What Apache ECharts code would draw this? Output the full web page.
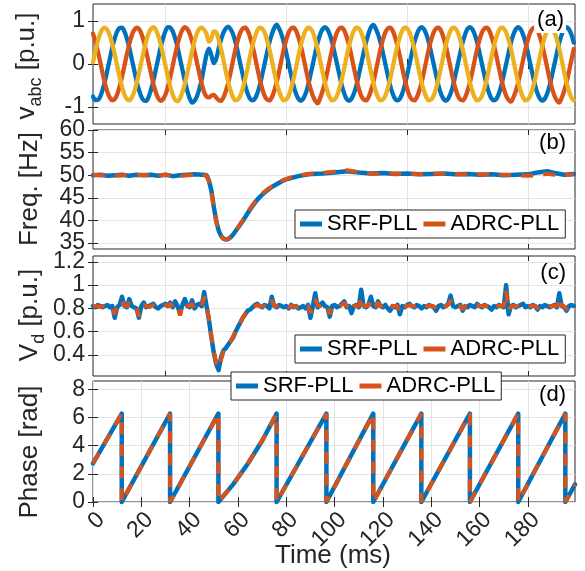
<!DOCTYPE html>
<html><head><meta charset="utf-8">
<script src="https://cdn.jsdelivr.net/npm/echarts@6/dist/echarts.min.js"></script>
<style>html,body{margin:0;padding:0;background:#fff}#c{width:585px;height:571px}</style>
</head><body><div id="c"></div><script>
// ---------- data (time axis: one sample per ms for panels a and c) ----------
const vA = [
-0.76,-0.84,-0.84,-0.76,-0.60,-0.39,-0.13,0.13,0.39,0.60,0.76,0.84,0.85,0.76,0.60,0.39,0.13,-0.13,-0.39,-0.60,
-0.76,-0.85,-0.86,-0.77,-0.60,-0.39,-0.13,0.13,0.39,0.60,0.77,0.86,0.85,0.76,0.60,0.39,0.13,-0.13,-0.39,-0.62,
-0.80,-0.90,-0.86,-0.76,-0.58,-0.36,-0.06,0.22,0.36,0.20,0.02,0.12,0.36,0.57,0.73,0.83,0.87,0.81,0.69,0.50,
0.26,0.00,-0.26,-0.50,-0.69,-0.81,-0.85,-0.81,-0.69,-0.50,-0.26,0.00,0.26,0.50,0.69,0.84,0.92,0.83,0.69,0.50,
0.26,0.00,-0.26,-0.50,-0.69,-0.81,-0.86,-0.81,-0.69,-0.50,-0.26,0.00,0.26,0.50,0.69,0.81,0.86,0.81,0.69,0.50,
0.26,0.00,-0.26,-0.50,-0.69,-0.82,-0.86,-0.81,-0.69,-0.50,-0.26,0.00,0.26,0.50,0.70,0.85,0.91,0.83,0.69,0.50,
0.26,0.00,-0.26,-0.50,-0.69,-0.81,-0.85,-0.81,-0.69,-0.50,-0.26,0.00,0.26,0.50,0.69,0.81,0.86,0.81,0.69,0.50,
0.26,0.00,-0.26,-0.50,-0.69,-0.81,-0.86,-0.81,-0.69,-0.50,-0.26,0.00,0.26,0.50,0.69,0.82,0.86,0.81,0.69,0.50,
0.26,0.00,-0.26,-0.50,-0.69,-0.81,-0.85,-0.81,-0.69,-0.50,-0.26,0.00,0.26,0.50,0.69,0.81,0.86,0.81,0.69,0.50,
0.26,0.00,-0.26,-0.50,-0.69,-0.81,-0.86,-0.81,-0.69,-0.50,-0.26,0.00,0.26,0.50,0.69,0.81,0.86,0.81,0.69,0.50];
const vB = [
0.71,0.53,0.30,0.04,-0.22,-0.46,-0.66,-0.79,-0.85,-0.82,-0.71,-0.53,-0.30,-0.04,0.22,0.46,0.66,0.79,0.85,0.82,
0.71,0.53,0.30,0.04,-0.22,-0.46,-0.66,-0.80,-0.86,-0.82,-0.71,-0.53,-0.30,-0.04,0.22,0.46,0.66,0.80,0.86,0.82,
0.71,0.53,0.30,0.04,-0.22,-0.46,-0.66,-0.76,-0.78,-0.74,-0.72,-0.78,-0.84,-0.86,-0.78,-0.63,-0.43,-0.18,0.09,0.35,
0.57,0.74,0.83,0.85,0.78,0.63,0.43,0.18,-0.09,-0.35,-0.57,-0.74,-0.83,-0.85,-0.78,-0.63,-0.43,-0.18,0.09,0.35,
0.57,0.74,0.83,0.85,0.78,0.63,0.43,0.18,-0.09,-0.35,-0.57,-0.74,-0.86,-0.92,-0.80,-0.63,-0.43,-0.18,0.09,0.35,
0.57,0.74,0.83,0.85,0.78,0.63,0.43,0.18,-0.09,-0.35,-0.57,-0.74,-0.83,-0.85,-0.78,-0.63,-0.43,-0.18,0.09,0.35,
0.57,0.74,0.83,0.85,0.78,0.63,0.43,0.18,-0.09,-0.35,-0.57,-0.74,-0.83,-0.85,-0.78,-0.63,-0.43,-0.18,0.09,0.35,
0.57,0.74,0.83,0.85,0.78,0.63,0.43,0.18,-0.09,-0.35,-0.57,-0.74,-0.83,-0.85,-0.78,-0.63,-0.43,-0.18,0.09,0.35,
0.57,0.74,0.83,0.85,0.78,0.63,0.43,0.18,-0.09,-0.35,-0.57,-0.74,-0.84,-0.88,-0.78,-0.63,-0.43,-0.18,0.09,0.35,
0.57,0.74,0.83,0.85,0.78,0.63,0.43,0.18,-0.09,-0.35,-0.57,-0.74,-0.85,-0.90,-0.79,-0.63,-0.43,-0.18,0.09,0.35];
const vC = [
0.04,0.30,0.53,0.71,0.82,0.85,0.79,0.66,0.46,0.22,-0.04,-0.30,-0.53,-0.71,-0.82,-0.85,-0.79,-0.66,-0.46,-0.22,
0.04,0.30,0.53,0.71,0.82,0.86,0.80,0.66,0.46,0.22,-0.04,-0.30,-0.53,-0.72,-0.84,-0.87,-0.80,-0.66,-0.46,-0.22,
0.04,0.30,0.53,0.71,0.82,0.85,0.80,0.70,0.52,0.60,0.76,0.74,0.57,0.35,0.09,-0.18,-0.43,-0.63,-0.78,-0.85,
-0.83,-0.74,-0.57,-0.35,-0.09,0.18,0.43,0.63,0.78,0.85,0.83,0.74,0.57,0.35,0.09,-0.18,-0.43,-0.63,-0.78,-0.85,
-0.83,-0.74,-0.57,-0.35,-0.09,0.18,0.43,0.63,0.78,0.85,0.83,0.74,0.57,0.35,0.09,-0.18,-0.43,-0.63,-0.78,-0.85,
-0.83,-0.74,-0.57,-0.35,-0.09,0.18,0.43,0.63,0.78,0.85,0.83,0.74,0.57,0.35,0.09,-0.18,-0.43,-0.63,-0.78,-0.85,
-0.83,-0.74,-0.57,-0.35,-0.09,0.18,0.43,0.63,0.78,0.85,0.83,0.74,0.57,0.35,0.09,-0.18,-0.43,-0.63,-0.78,-0.85,
-0.83,-0.74,-0.57,-0.35,-0.09,0.18,0.43,0.63,0.78,0.85,0.83,0.74,0.57,0.35,0.09,-0.18,-0.43,-0.63,-0.78,-0.85,
-0.83,-0.74,-0.57,-0.35,-0.09,0.18,0.43,0.63,0.78,0.85,0.83,0.74,0.57,0.35,0.09,-0.18,-0.43,-0.63,-0.78,-0.85,
-0.83,-0.74,-0.57,-0.35,-0.09,0.18,0.43,0.63,0.78,0.85,0.83,0.74,0.57,0.35,0.09,-0.18,-0.43,-0.63,-0.78,-0.85];

const freqT = [0,3,6,9,12,15,18,21,24,27,30,33,36,39,42,45,46,47,48,49,50,51,52,53,54,55,56,57,58,60,62,64,66,68,70,72,74,76,78,80,82,85,88,91,95,100,105,110,115,120,125,130,135,140,145,150,155,160,165,170,175,180,184,188,191,195,199];
const freqSRF = [50.0,50.1,49.9,50.0,50.1,49.9,50.1,50.0,50.1,49.9,50.1,49.8,50.0,50.1,50.2,50.1,50.1,50.0,48.8,46.6,43.0,40.0,37.8,36.6,36.0,35.8,35.9,36.3,36.9,38.4,39.9,41.6,43.2,44.6,45.7,46.6,47.4,48.0,48.6,49.1,49.4,49.8,50.1,50.3,50.4,50.6,50.9,50.6,50.4,50.5,50.3,50.4,50.2,50.3,50.4,50.2,50.3,50.1,50.2,50.0,50.1,50.2,50.6,50.9,50.5,50.1,50.3];
const freqADRC = [50.1,50.0,50.0,49.9,50.0,50.1,50.0,50.1,49.9,50.0,50.1,50.0,49.9,50.0,50.1,50.0,50.0,49.9,48.6,46.3,42.8,39.8,37.6,36.5,35.9,35.8,36.0,36.4,37.0,38.5,40.1,41.8,43.4,44.8,45.9,46.8,47.5,48.1,48.7,49.2,49.5,49.9,50.2,50.4,50.5,50.8,51.1,50.7,50.4,50.3,50.4,50.3,50.2,50.4,50.3,50.2,50.2,50.2,50.1,50.1,50.0,49.9,50.0,50.3,50.1,50.0,50.2];

const vdSRF = [
.82,.81,.83,.82,.81,.82,.83,.81,.82,.72, .81,.83,.90,.82,.81,.88,.82,.81,.80,.72,
.82,.85,.81,.82,.83,.84,.81,.80,.82,.83, .84,.82,.85,.81,.86,.82,.76,.83,.88,.82,
.81,.87,.80,.83,.84,.82,.94,.82,.70,.55, .42,.32,.27,.38,.44,.46,.49,.52,.55,.60,
.64,.68,.72,.75,.78,.79,.81,.83,.84,.82, .81,.83,.82,.80,.90,.82,.81,.83,.82,.81,
.82,.80,.83,.81,.82,.80,.81,.82,.80,.83, .72,.82,.93,.81,.83,.85,.82,.81,.73,.82,
.83,.81,.82,.84,.86,.81,.82,.76,.82,.83, .81,.96,.82,.81,.83,.90,.82,.81,.86,.82,
.81,.83,.80,.78,.82,.81,.83,.75,.82,.81, .83,.84,.82,.81,.83,.82,.80,.82,.81,.83,
.82,.81,.78,.82,.83,.81,.82,.84,.91,.82, .81,.82,.83,.78,.82,.81,.83,.82,.81,.84,
.82,.81,.83,.82,.81,.79,.82,.81,.83,.82, .81,1.00,.75,.82,.83,.81,.82,.83,.84,.81,
.82,.81,.83,.82,.79,.82,.81,.83,.82,.81, .82,.83,.81,.93,.82,.81,.78,.82,.83,.82];
const vdADRC = [
.82,.82,.82,.81,.82,.82,.82,.82,.81,.75, .82,.82,.86,.82,.82,.85,.82,.81,.81,.73,
.82,.83,.82,.81,.82,.83,.82,.81,.82,.82, .83,.82,.84,.82,.84,.82,.74,.82,.85,.82,
.82,.84,.80,.82,.83,.82,.90,.83,.71,.56, .43,.33,.29,.36,.43,.46,.49,.52,.56,.60,
.64,.68,.72,.75,.77,.79,.81,.82,.83,.82, .82,.82,.82,.81,.87,.82,.82,.82,.82,.81,
.82,.81,.82,.81,.82,.81,.81,.82,.81,.82, .76,.82,.88,.82,.82,.84,.82,.82,.75,.82,
.82,.82,.82,.83,.85,.82,.82,.78,.82,.82, .82,.90,.82,.82,.82,.87,.82,.82,.85,.82,
.82,.82,.81,.79,.82,.82,.82,.77,.82,.82, .82,.83,.82,.82,.82,.82,.81,.82,.82,.82,
.82,.82,.79,.82,.82,.82,.82,.83,.87,.82, .82,.82,.82,.79,.82,.82,.82,.82,.82,.83,
.82,.82,.82,.82,.82,.80,.82,.82,.82,.82, .82,.95,.78,.82,.82,.82,.82,.82,.83,.82,
.82,.82,.82,.82,.80,.82,.82,.82,.82,.82, .82,.82,.82,.89,.82,.82,.79,.82,.82,.82];

const phaseT    = [0,11.9,11.9,31.9,31.9,51.9,51.9,58,64,70,76,76,96.6,96.6,116,116,135.9,135.9,156,156,176,176,195.5,195.5,199.5];
const phaseSRF  = [2.75,6.28,0,6.28,0,6.28,0,1.25,2.7,4.35,6.28,0,6.28,0,6.28,0,6.28,0,6.28,0,6.28,0,6.28,0,1.25];
const phaseADRC = [2.75,6.28,0,6.28,0,6.28,0,1.25,2.7,4.35,6.28,0,6.28,0,6.28,0,6.28,0,6.28,0,6.28,0,6.28,0,1.25];

const xTicksD = [0,20,40,60,80,100,120,140,160,180];
const xGridABC = [30,80,130,180];
const yTicks = [[-1,0,1],[35,40,45,50,55,60],[0.4,0.6,0.8,1,1.2],[0,2,4,6,8]];
// tick labels split into two non-overlapping sets per panel
const yLabelSets = [[[-1,0,1]],[[35,45,55],[40,50,60]],[[0.4,0.8,1.2],[0.6,1]],[[0,2,4,6,8]]];
const yRange = [[-1.4,1.4],[33.7,60],[0.22,1.25],[0,8.6]];
const legendNames = ['SRF-PLL','ADRC-PLL'];

// ---------- styling ----------
const BLUE='#0072BD', ORANGE='#D95319', YELLOW='#EDB120', INK='#262626', GRIDC='#e4e4e4';
const FONT='"Liberation Sans", Arial, Helvetica, sans-serif';
const boxes=[{top:4,height:120},{top:130,height:119},{top:256,height:120},{top:381,height:121}];

const grid = boxes.map(b=>({left:93,width:482,top:b.top,height:b.height,show:true,borderColor:INK,borderWidth:1,backgroundColor:'rgba(0,0,0,0)'}));
const xAxis=[], yAxis=[], yExtra=[];
const yLab = vals => ({show:true,customValues:vals,fontSize:23,color:INK,fontFamily:FONT,margin:8,hideOverlap:false,showMinLabel:true,showMaxLabel:true});
boxes.forEach((b,i)=>{
  const xt = i===3 ? xTicksD : xGridABC;
  xAxis.push({type:'value',gridIndex:i,min:0,max:199.5,position:'bottom',
    axisLine:{show:false},
    axisTick:{show:true,inside:true,length:5,lineStyle:{color:INK},customValues:xt},
    axisLabel:{show:i===3,customValues:xt,rotate:45,fontSize:23,color:INK,fontFamily:FONT,margin:6,align:'right',verticalAlign:'top',hideOverlap:false,showMinLabel:true,showMaxLabel:true},
    splitLine:{show:true,lineStyle:{color:GRIDC,width:1}}});
  xAxis.push({type:'value',gridIndex:i,min:0,max:199.5,position:'top',
    axisLine:{show:false},axisTick:{show:true,inside:true,length:5,lineStyle:{color:INK},customValues:xt},
    axisLabel:{show:false},splitLine:{show:false}});
  yAxis.push({type:'value',gridIndex:i,min:yRange[i][0],max:yRange[i][1],position:'left',
    axisLine:{show:false},
    axisTick:{show:true,inside:true,length:5,lineStyle:{color:INK},customValues:yTicks[i]},
    axisLabel:yLab(yLabelSets[i][0]),
    splitLine:{show:true,lineStyle:{color:GRIDC,width:1}}});
  yAxis.push({type:'value',gridIndex:i,min:yRange[i][0],max:yRange[i][1],position:'right',
    axisLine:{show:false},axisTick:{show:true,inside:true,length:5,lineStyle:{color:INK},customValues:yTicks[i]},
    axisLabel:{show:false},splitLine:{show:false}});
  if (yLabelSets[i][1]) {
    yExtra.push({type:'value',gridIndex:i,min:yRange[i][0],max:yRange[i][1],position:'left',offset:0,
      axisLine:{show:false},axisTick:{show:false,customValues:yLabelSets[i][1]},
      axisLabel:yLab(yLabelSets[i][1]),splitLine:{show:false}});
  }
});
yExtra.forEach(a=>yAxis.push(a));

const idx = arr => arr.map((v,i)=>[i,v]);
const pair = (t,v) => t.map((x,k)=>[x,v[k]]);
const solid=(name,data,color,ai,w)=>({type:'line',name,data,xAxisIndex:ai,yAxisIndex:ai,showSymbol:false,symbol:'none',
  lineStyle:{color,width:w,cap:'round',join:'round'},itemStyle:{color},animation:false,z:2});
const dashed=(name,data,color,ai,w)=>({type:'line',name,data,xAxisIndex:ai,yAxisIndex:ai,showSymbol:false,symbol:'none',
  lineStyle:{color,width:w,type:[12,10],cap:'butt'},itemStyle:{color},animation:false,z:3});

const series=[
  Object.assign(solid('va',idx(vA),BLUE,0,4.3),{smooth:0.3}),
  Object.assign(solid('vb',idx(vB),ORANGE,0,4.3),{smooth:0.3}),
  Object.assign(solid('vc',idx(vC),YELLOW,0,4.3),{smooth:0.3}),
  solid('SRF-PLL',pair(freqT,freqSRF),BLUE,2,4.5),
  dashed('ADRC-PLL',pair(freqT,freqADRC),ORANGE,2,4),
  solid('SRF-PLL',idx(vdSRF),BLUE,4,4.5),
  dashed('ADRC-PLL',idx(vdADRC),ORANGE,4,4),
  solid('SRF-PLL',pair(phaseT,phaseSRF),BLUE,6,4.5),
  dashed('ADRC-PLL',pair(phaseT,phaseADRC),ORANGE,6,4)
];

const legPos=[{left:295,top:210},{left:295,top:335},{left:231,top:372}];
const legend = legPos.map(p=>({data:legendNames,left:p.left,top:p.top,orient:'horizontal',icon:'rect',
  itemWidth:22,itemHeight:5,itemGap:6,padding:[3,6,3,5],backgroundColor:'#fff',borderColor:INK,borderWidth:1,
  selectedMode:false,z:20,textStyle:{fontSize:22,color:'#000',fontFamily:FONT}}));

const tstyle=(txt,extra)=>Object.assign({text:txt,font:'26px '+FONT,fill:INK,align:'center',verticalAlign:'middle',textAlign:'center',textVerticalAlign:'middle'},extra||{});
const richSub={m:{fontSize:26,fontFamily:FONT,fill:INK,lineHeight:36,verticalAlign:'middle'},s:{fontSize:18,fontFamily:FONT,fill:INK,lineHeight:18,verticalAlign:'bottom'}};
const graphic=[
  {type:'text',x:27,y:66,rotation:Math.PI/2,z:30,style:tstyle('{m|v}{s|abc}{m| [p.u.]}',{rich:richSub})},
  {type:'text',x:30,y:189,rotation:Math.PI/2,z:30,style:tstyle('Freq. [Hz]')},
  {type:'text',x:30,y:315,rotation:Math.PI/2,z:30,style:tstyle('{m|V}{s|d}{m| [p.u.]}',{rich:richSub})},
  {type:'text',x:30,y:452,rotation:Math.PI/2,z:30,style:tstyle('Phase [rad]')},
  {type:'text',x:333,y:556,z:30,style:tstyle('Time (ms)')},
  {type:'text',x:566,y:20,z:30,style:tstyle('(a)',{font:'22px '+FONT,fill:'#000',align:'right',textAlign:'right',backgroundColor:'#fff',padding:[2,2,2,3]})},
  {type:'text',x:566,y:143,z:30,style:tstyle('(b)',{font:'22px '+FONT,fill:'#000',align:'right',textAlign:'right'})},
  {type:'text',x:566,y:273,z:30,style:tstyle('(c)',{font:'22px '+FONT,fill:'#000',align:'right',textAlign:'right'})},
  {type:'text',x:566,y:395,z:30,style:tstyle('(d)',{font:'22px '+FONT,fill:'#000',align:'right',textAlign:'right'})}
];

const chart = echarts.init(document.getElementById('c'),null,{renderer:'canvas'});
chart.setOption({animation:false,backgroundColor:'#fff',grid,xAxis,yAxis,series,legend,graphic});
</script></body></html>
